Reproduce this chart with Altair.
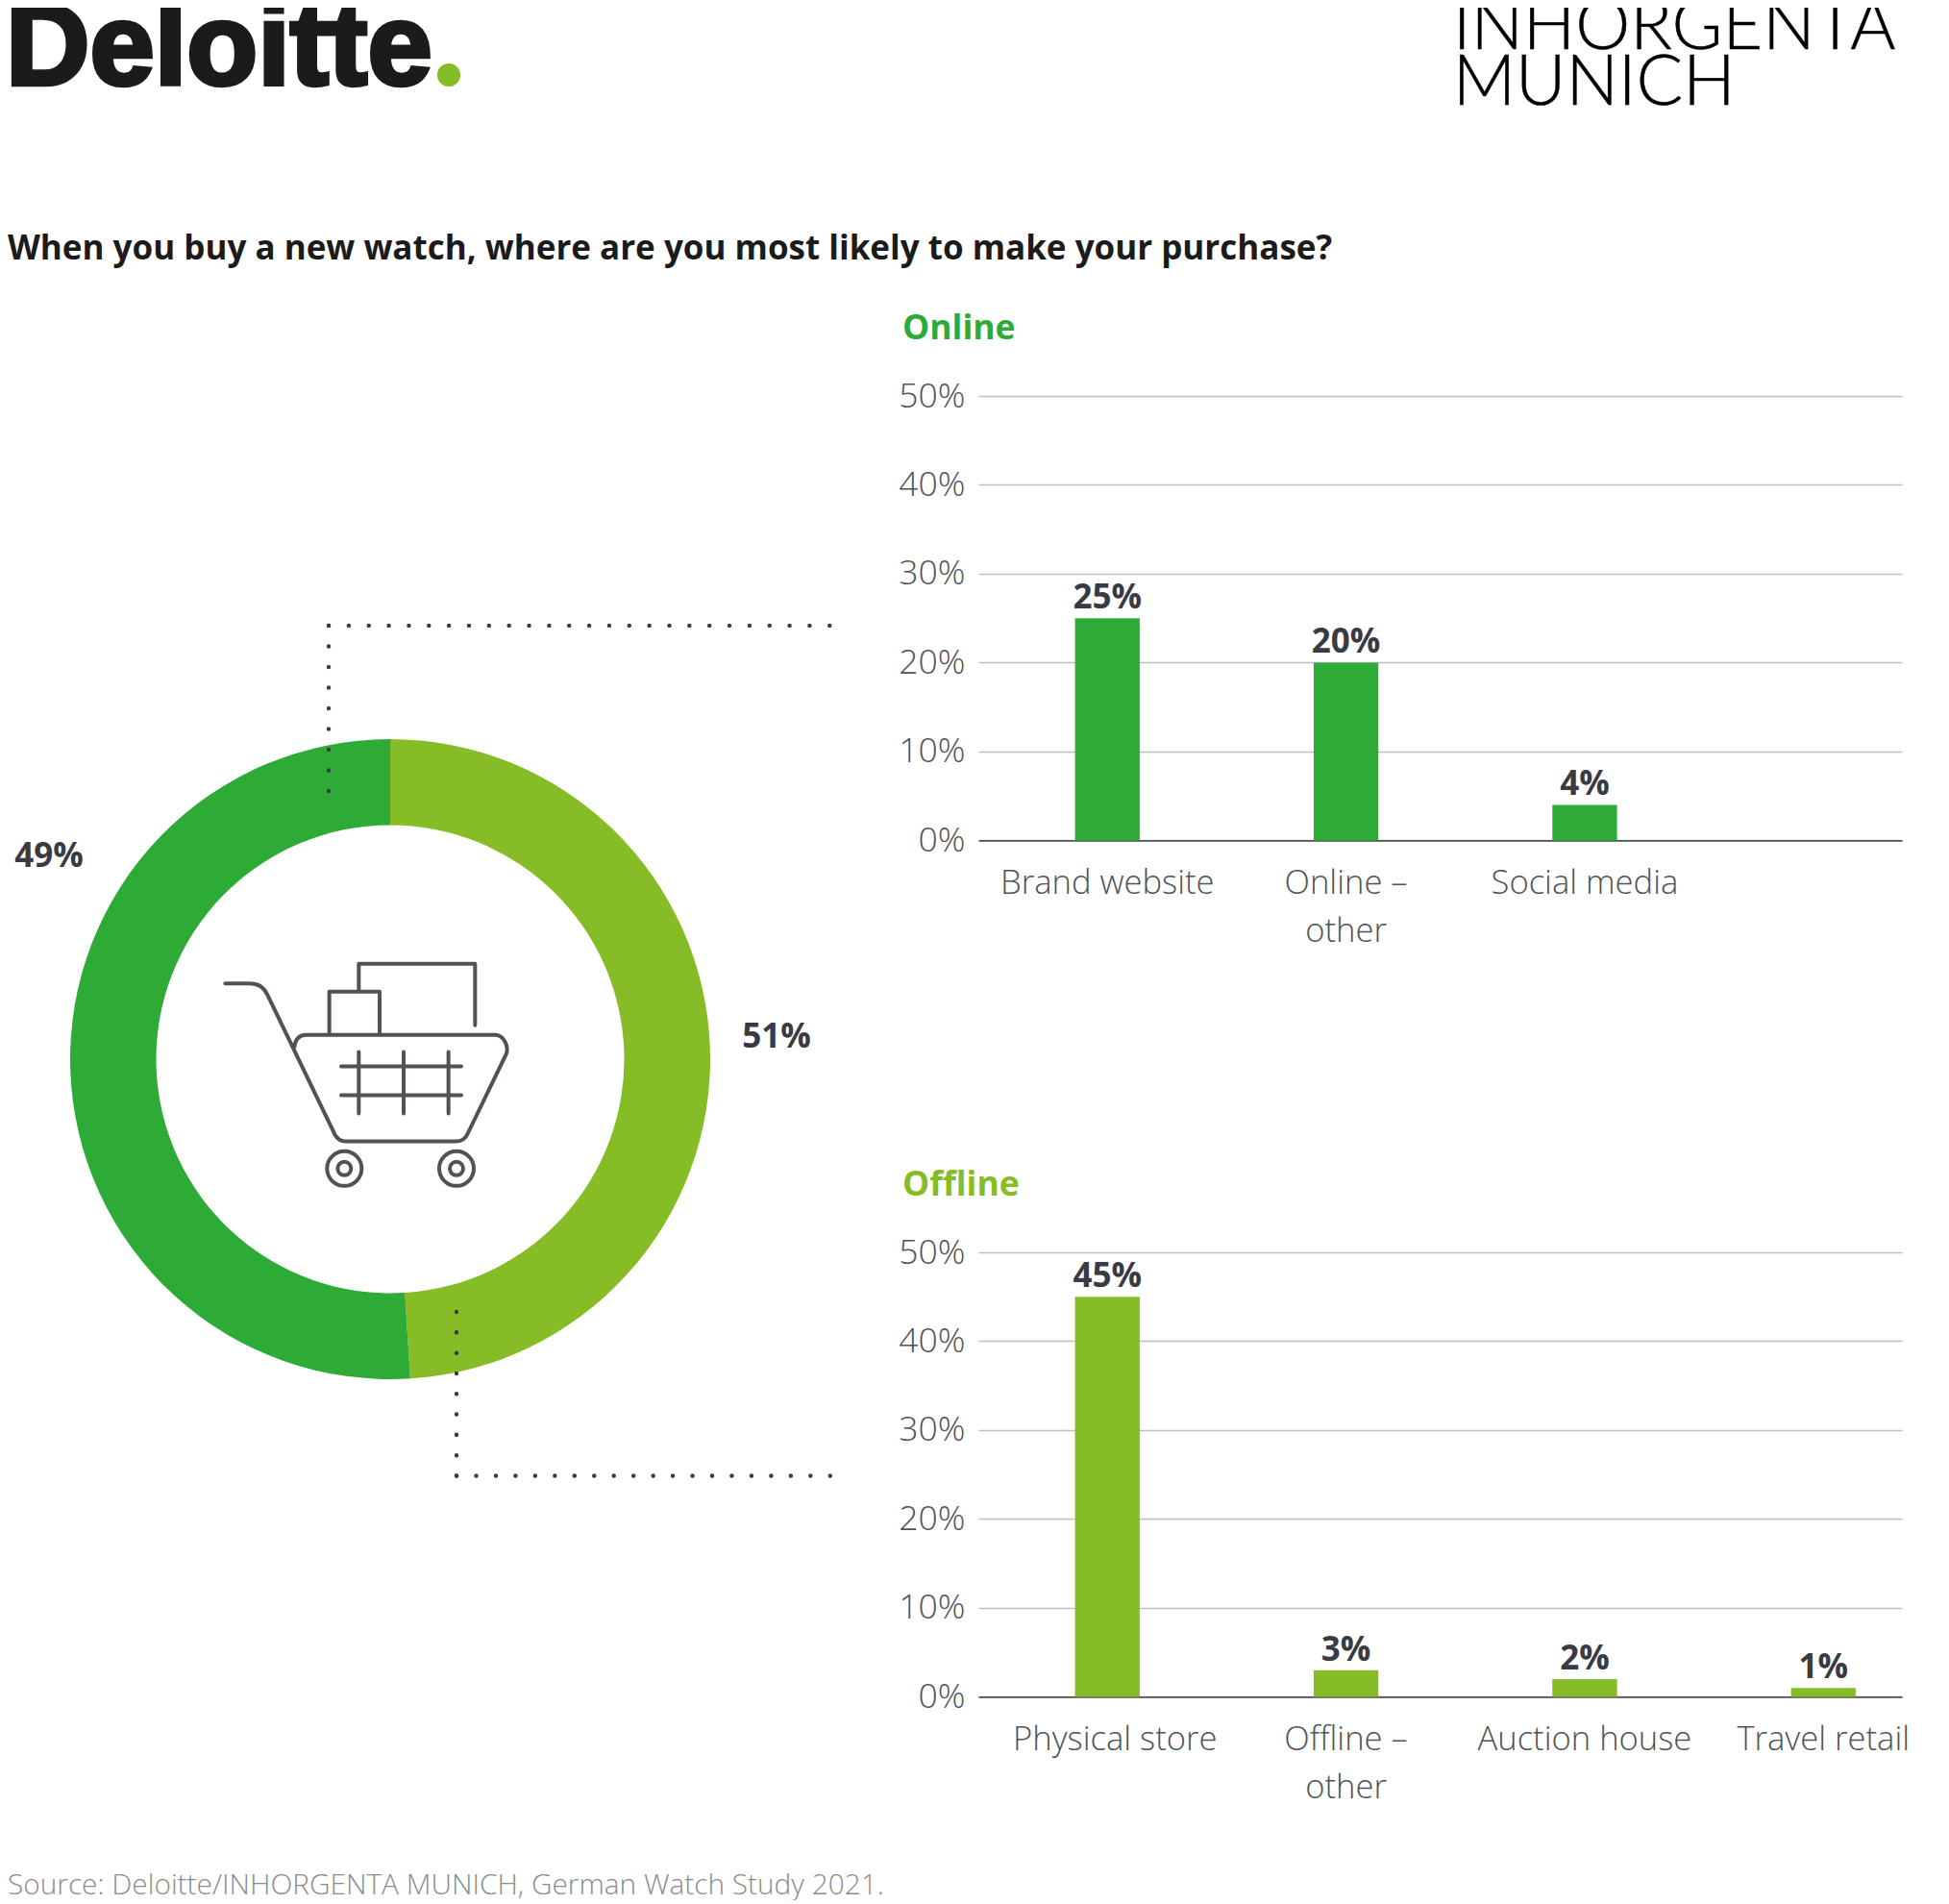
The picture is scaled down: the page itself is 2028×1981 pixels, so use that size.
import altair as alt
import pandas as pd

FONT = "Open Sans"
DARK = "#2EAB37"
LIGHT = "#86BC25"
INK = "#3A3A44"
GREY = "#4F5256"
GRID = "#BDBEC0"

question = "When you buy a new watch, where are you most likely to make your purchase?"
source = "Source: Deloitte/INHORGENTA MUNICH, German Watch Study 2021."

segments = ["Offline", "Online"]
ring_shares = [49, 51]
printed_shares = ["51%", "49%"]

online_cats = ["Brand website", "Online – other", "Social media", " "]
online_vals = [25, 20, 4]
offline_cats = ["Physical store", "Offline – other", "Auction house", "Travel retail"]
offline_vals = [45, 3, 2, 1]
ticks = [0, 10, 20, 30, 40, 50]

CART = (
    "M103 219H180C205 219 225 232 235 255L445 690C452 703 465 712 480 712H825"
    "C840 712 853 703 860 688L980 440C990 415 972 380 945 380H355C335 380 322 392 318 420"
    "M428 380V245H585V380M520 245V158H883V350"
    "M465 478H840M465 568H840M520 433V625M660 433V625M800 433V625"
    "M421 797A54 54 0 1 0 529 797A54 54 0 1 0 421 797"
    "M454 797A21 21 0 1 0 496 797A21 21 0 1 0 454 797"
    "M771 797A54 54 0 1 0 879 797A54 54 0 1 0 771 797"
    "M804 797A21 21 0 1 0 846 797A21 21 0 1 0 804 797"
)


def label(text, x, y, size, color, weight=400, align="left", clip=False, font=FONT, stroke=0):
    kw = dict(stroke=color, strokeWidth=stroke) if stroke else {}
    return alt.Chart().mark_text(
        font=font, fontSize=size, fontWeight=weight, color=color, align=align,
        baseline="alphabetic", clip=clip, **kw,
    ).encode(x=alt.value(x), y=alt.value(y), text=alt.value(text))


def dots(x, y, step, x2=None, y2=None):
    enc = dict(x=alt.value(x), y=alt.value(y))
    if x2 is not None:
        enc["x2"] = alt.value(x2)
    if y2 is not None:
        enc["y2"] = alt.value(y2)
    return alt.Chart().mark_rule(
        color=INK, strokeWidth=4.4, strokeCap="round", strokeDash=[0.1, step - 0.1]
    ).encode(**enc)


def bars(cats, vals, color, title):
    df = pd.DataFrame({"cat": cats[: len(vals)], "val": vals})
    df["txt"] = [f"{v}%" for v in vals]
    x = alt.X(
        "cat:N",
        sort=cats,
        scale=alt.Scale(domain=cats, paddingInner=0.729, paddingOuter=0.2995, align=0.6765),
        axis=alt.Axis(
            title=None, labelAngle=0, ticks=False, labelFont=FONT, labelFontSize=34.6,
            labelFontWeight=300, labelColor=GREY, labelPadding=28, domainColor=GREY,
            domainWidth=1.6, labelLineHeight=50, labelBaseline="top", labelLimit=400,
            labelOverlap=False, labelBound=False, labelFlush=False,
            labelOffset={"condition": {"test": "datum.label == 'Physical store'", "value": 8}, "value": 0},
            labelExpr="indexof(datum.label, '–') > 0 ? [split(datum.label, ' other')[0], 'other'] : datum.label",
        ),
    )
    y = alt.Y(
        "val:Q",
        scale=alt.Scale(domain=[0, 50]),
        axis=alt.Axis(
            title=None, values=ticks, domain=False, ticks=False, labelFont=FONT,
            labelFontSize=35.5, labelFontWeight=300, labelColor=GREY, labelPadding=14,
            gridColor=GRID, gridWidth=1.4, labelExpr="datum.value + '%'",
        ),
    )
    base = alt.Chart(df).encode(x=x, y=y)
    b = base.mark_bar(color=color)
    t = base.mark_text(
        font=FONT, fontSize=35, fontWeight=700, color=INK, baseline="alphabetic", dy=-10
    ).encode(text="txt:N")
    head = label(title, -79, -59, 35.5, color, 700)
    return alt.layer(b, t, head).properties(width=961, height=462.4)


top = alt.layer(
    label("Deloitte", -2, 80, 121, "#1B1B1B", 700, clip=True, font="Liberation Sans", stroke=4.5),
    alt.Chart().mark_point(filled=True, color=LIGHT, opacity=1, size=580, clip=True).encode(
        x=alt.value(459), y=alt.value(70)
    ),
    label("INHORGENTA", 1503.7, 43, 72, "#000000", 300, clip=True, font="Lato", stroke=0.5),
    label("MUNICH", 1503.7, 101, 72, "#000000", 300, clip=True, font="Lato", stroke=0.5),
    label(question, 0, 262, 35, "#1B1B1B", 700),
).properties(width=2012, height=403.8)

donut_df = pd.DataFrame(
    {"seg": segments, "share": ring_shares, "printed": printed_shares, "ord": [0, 1]}
)
donut = alt.Chart(donut_df).mark_arc(radius=333, innerRadius=243.5).encode(
    theta=alt.Theta("share:Q", stack=True),
    order=alt.Order("ord:Q"),
    color=alt.Color("seg:N", scale=alt.Scale(domain=segments, range=[LIGHT, DARK]), legend=None),
    x=alt.value(398),
    y=alt.value(690),
)

off_lbl = alt.Chart(donut_df).transform_filter("datum.seg == 'Offline'").mark_text(
    font=FONT, fontSize=35, fontWeight=700, color=INK, align="center"
).encode(x=alt.value(800), y=alt.value(666.6), text="printed:N")
on_lbl = alt.Chart(donut_df).transform_filter("datum.seg == 'Online'").mark_text(
    font=FONT, fontSize=35, fontWeight=700, color=INK, align="center"
).encode(x=alt.value(43), y=alt.value(478.6), text="printed:N")

cart = alt.Chart().mark_point(
    shape=CART, size=0.4444, filled=False, stroke=GREY, strokeWidth=4, opacity=1,
    strokeCap="round", strokeJoin="round",
).encode(x=alt.value(192), y=alt.value(538.2))

left = alt.layer(
    donut,
    cart,
    dots(334, 238.9, 20.85, x2=856),
    dots(334, 238.9, 21.5, y2=411.5),
    dots(467, 1123.5, 21.3, y2=952),
    dots(467, 1123.5, 20.46, x2=857),
    on_lbl,
    off_lbl,
    label(source, 0, 1559, 29.8, "#8C8C8C", 300),
).properties(width=1010, height=1352.8)

right = alt.vconcat(
    bars(online_cats, online_vals, DARK, "Online"),
    bars(offline_cats, offline_vals, LIGHT, "Offline"),
    spacing=428,
    bounds="flush",
)

chart = (
    alt.vconcat(
        top,
        alt.hconcat(left, right, spacing=0, bounds="flush"),
        spacing=0,
        bounds="flush",
    )
    .properties(padding=0, background="white")
    .configure_view(strokeWidth=0)
)

chart.save("out.html", embed_options={"renderer": "svg", "actions": False})
